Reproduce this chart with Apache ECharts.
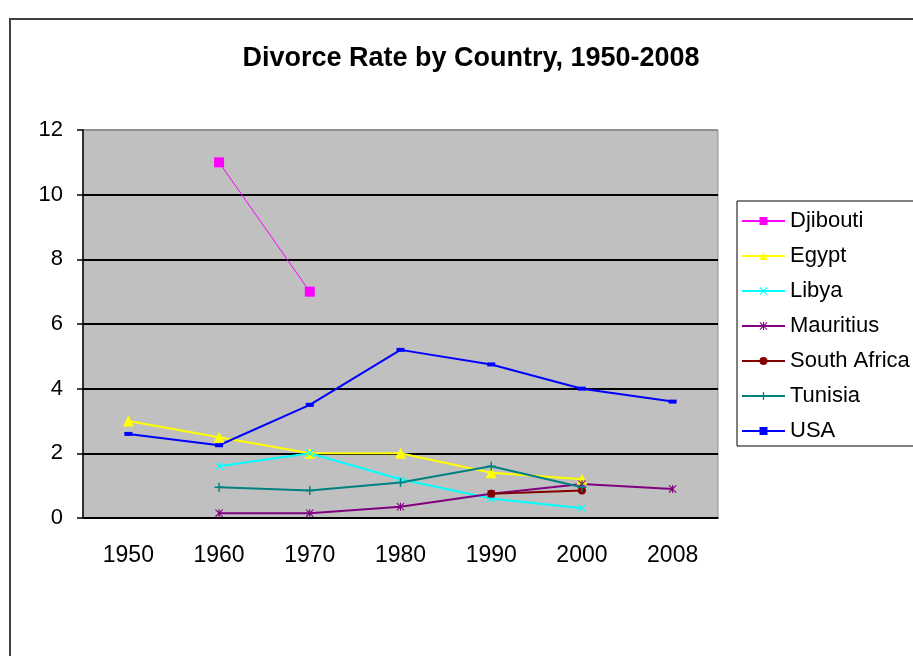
<!DOCTYPE html>
<html>
<head>
<meta charset="utf-8">
<script src="https://cdn.jsdelivr.net/npm/echarts@6/dist/echarts.min.js"></script>
<style>
  html, body { margin: 0; padding: 0; background: #fff; }
  #chart { width: 913px; height: 656px; }
</style>
</head>
<body>
<div id="chart"></div>
<script>
var years = ['1950', '1960', '1970', '1980', '1990', '2000', '2008'];

var djibouti    = [null, 11.0, 7.0, null, null, null, null];
var egypt       = [3.0, 2.5, 2.0, 2.0, 1.4, 1.2, null];
var libya       = [null, 1.6, 2.0, 1.2, 0.6, 0.3, null];
var mauritius   = [null, 0.15, 0.15, 0.35, 0.75, 1.05, 0.9];
var southAfrica = [null, null, null, null, 0.75, 0.85, null];
var tunisia     = [null, 0.95, 0.85, 1.1, 1.6, 0.95, null];
var usa         = [2.6, 2.25, 3.5, 5.2, 4.75, 4.0, 3.6];

var font = "'Liberation Sans', Arial, sans-serif";

// marker shapes
var xMark = 'path://M0,1L1,0L5,4L9,0L10,1L6,5L10,9L9,10L5,6L1,10L0,9L4,5Z';
var plusMark = 'path://M4.2,0H5.8V4.2H10V5.8H5.8V10H4.2V5.8H0V4.2H4.2Z';
var starMark = 'path://M0,1L1,0L4.3,3.3V0H5.7V3.3L9,0L10,1L6.4,4.6V6L10,9L9,10L5.7,6.7V10H4.3V6.7L1,10L0,9L3.6,5.4V4.6Z';

function line(name, data, color, symbol, size, width) {
  return {
    name: name,
    type: 'line',
    data: data,
    symbol: symbol,
    symbolSize: size,
    showAllSymbol: true,
    connectNulls: false,
    lineStyle: { color: color, width: width },
    itemStyle: { color: color, borderWidth: 0 },
    emphasis: { disabled: true }
  };
}

var option = {
  animation: false,
  backgroundColor: '#fff',
  title: {
    text: 'Divorce Rate by Country, 1950-2008',
    left: 466,
    textAlign: 'center',
    top: 40,
    textStyle: { fontFamily: font, fontSize: 27, fontWeight: 'bold', color: '#000' }
  },
  graphic: [{
    type: 'rect',
    shape: { x: 10, y: 19, width: 920, height: 660 },
    style: { fill: 'none', stroke: '#404040', lineWidth: 2 },
    silent: true
  }],
  legend: {
    orient: 'vertical',
    left: 737,
    top: 201,
    padding: [9, 40, 4, 4],
    itemWidth: 43,
    itemHeight: 10,
    itemGap: 13,
    borderColor: '#000',
    borderWidth: 1,
    textStyle: { fontFamily: font, fontSize: 22, color: '#000', lineHeight: 22 },
    data: ['Djibouti', 'Egypt', 'Libya', 'Mauritius', 'South Africa', 'Tunisia', 'USA']
  },
  grid: {
    left: 83, right: 195, top: 130, bottom: 138,
    show: true,
    backgroundColor: '#C0C0C0',
    borderColor: '#909090',
    borderWidth: 1
  },
  xAxis: {
    type: 'category',
    data: years,
    boundaryGap: true,
    axisLine: { lineStyle: { color: '#000', width: 1.5 } },
    axisTick: { length: 7, lineStyle: { color: '#000', width: 1.5 } },
    axisLabel: { fontFamily: font, fontSize: 23, color: '#000', margin: 26 }
  },
  yAxis: {
    type: 'value',
    min: 0, max: 12, interval: 2,
    axisLine: { show: true, lineStyle: { color: '#000', width: 1.5 } },
    axisTick: { show: true, length: 6, lineStyle: { color: '#000', width: 1.5 } },
    axisLabel: { fontFamily: font, fontSize: 22, color: '#000', margin: 20 },
    splitLine: {
      lineStyle: {
        color: ['#000', '#000', '#000', '#000', '#000', '#000', '#909090'],
        width: 1.8
      }
    }
  },
  series: [
    line('Djibouti', djibouti, '#FF00FF', 'rect', 10, 1),
    line('Egypt', egypt, '#FFFF00', 'triangle', 11, 2),
    line('Libya', libya, '#00FFFF', xMark, 8, 2),
    line('Mauritius', mauritius, '#800080', starMark, 8, 2),
    line('South Africa', southAfrica, '#800000', 'circle', 8, 2),
    line('Tunisia', tunisia, '#008080', plusMark, 9, 2),
    line('USA', usa, '#0000FF', 'rect', [8, 4], 2)
  ]
};

var myChart = echarts.init(document.getElementById('chart'));
myChart.setOption(option);
</script>
</body>
</html>
